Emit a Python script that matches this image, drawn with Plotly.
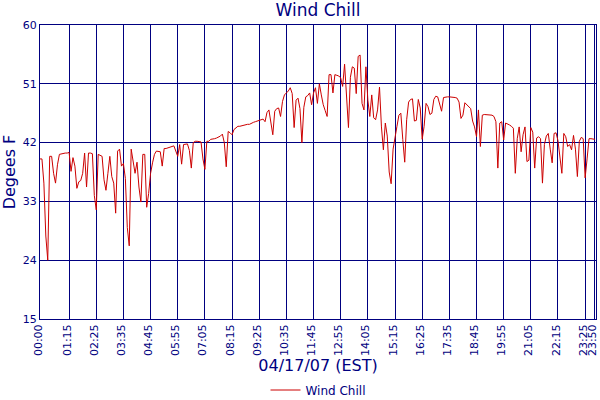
import plotly.graph_objects as go

# wind chill readings every 5 minutes, 00:00 .. 23:50
minutes = list(range(0, 1435, 5))
wind_chill = [
    39.5, 39.5, 35.8, 27.7, 24.0, 39.9, 39.9, 37.3, 35.8, 38.6, 40.2, 40.3,
    40.4, 40.4, 40.4, 40.5, 37.6, 39.7, 38.4, 35.0, 36.0, 36.2, 37.3, 40.4,
    35.2, 40.4, 40.4, 40.3, 33.9, 31.7, 40.2, 40.0, 39.9, 36.3, 34.7, 37.3,
    39.9, 36.8, 35.8, 31.2, 40.7, 41.0, 38.4, 38.8, 36.5, 29.0, 26.2, 41.0,
    39.1, 37.3, 39.0, 35.2, 32.9, 40.2, 40.2, 32.1, 34.2, 37.3, 38.9, 40.2,
    40.7, 40.7, 40.6, 38.4, 41.1, 41.1, 41.2, 41.3, 41.4, 41.5, 40.7, 39.9,
    41.7, 38.7, 41.7, 41.7, 41.8, 40.8, 38.1, 42.0, 42.2, 42.2, 42.2, 42.1,
    39.5, 37.9, 42.2, 42.2, 42.5, 42.5, 42.6, 42.7, 42.8, 43.0, 43.3, 42.0,
    38.3, 43.7, 43.5, 43.2, 44.0, 44.3, 44.5, 44.5, 44.6, 44.6, 44.8, 44.8,
    44.8, 45.0, 45.1, 45.2, 45.3, 45.3, 45.5, 45.6, 45.2, 46.6, 47.0, 45.4,
    43.2, 46.8, 47.2, 47.3, 46.0, 48.3, 49.3, 49.6, 49.9, 50.4, 49.5, 44.3,
    48.5, 48.8, 47.2, 42.0, 47.4, 49.0, 49.2, 49.6, 47.8, 49.6, 50.4, 48.0,
    51.0, 49.3, 47.8, 46.9, 46.0, 52.4, 52.4, 49.6, 52.4, 52.3, 52.2, 51.9,
    50.6, 54.0, 48.5, 44.3, 52.0, 53.6, 53.4, 49.5, 55.2, 55.4, 48.0, 47.0,
    53.6, 48.5, 46.0, 49.3, 45.8, 45.5, 47.0, 50.5, 44.4, 40.9, 45.0, 43.0,
    37.5, 35.7, 41.0, 43.1, 44.5, 46.2, 46.5, 42.5, 39.0, 45.5, 48.2, 48.6,
    48.7, 45.3, 45.4, 48.6, 47.3, 42.5, 44.5, 48.0, 47.5, 46.3, 46.5, 48.6,
    49.1, 49.0, 47.8, 46.8, 48.9, 49.0, 49.0, 49.0, 49.0, 48.9, 48.9, 48.8,
    48.2, 45.7, 46.2, 48.1, 47.8, 47.5, 47.2, 45.3, 44.4, 42.9, 47.0, 41.4,
    46.2, 46.3, 46.3, 46.3, 46.2, 46.2, 46.0, 45.2, 38.1, 45.0, 45.2, 42.4,
    45.0, 44.9, 44.7, 44.5, 44.2, 37.3, 42.6, 44.4, 40.6, 43.2, 44.4, 39.1,
    39.3, 44.3, 43.6, 38.1, 42.7, 42.9, 42.6, 35.8, 41.7, 43.0, 43.4, 41.0,
    38.9, 43.4, 43.5, 42.3, 39.3, 37.3, 43.4, 42.9, 41.4, 41.7, 40.9, 43.1,
    41.0, 36.8, 42.2, 42.8, 42.6, 36.6, 39.5, 42.6, 42.6, 42.5, 42.5,
]

tick_labels = ["00:00", "01:15", "02:25", "03:35", "04:45", "05:55", "07:05",
               "08:15", "09:25", "10:35", "11:45", "12:55", "14:05", "15:15",
               "16:25", "17:35", "18:45", "19:55", "21:05", "22:15", "23:25",
               "23:50"]
tick_minutes = [int(t[:2]) * 60 + int(t[3:]) for t in tick_labels]
y_ticks = [15, 24, 33, 42, 51, 60]

navy = "#000080"

fig = go.Figure()
fig.add_trace(go.Scatter(x=minutes, y=wind_chill, mode="lines", name="Wind Chill",
                         line=dict(color="#CC0000", width=1)))

fig.update_layout(
    width=600, height=400,
    margin=dict(l=40, r=4, t=25, b=81),
    paper_bgcolor="white", plot_bgcolor="white",
    font=dict(family="DejaVu Sans", color=navy, size=11),
    title=dict(text="Wind Chill", x=0.53, xanchor="center", y=0.975, yanchor="middle",
               font=dict(size=17, color=navy), automargin=False),
    showlegend=True,
    legend=dict(orientation="h", x=0.5, xanchor="center", yref="container",
                y=0.025, yanchor="middle", font=dict(size=12, color=navy)),
)
fig.update_xaxes(range=[0, 1433], tickvals=tick_minutes, ticktext=tick_labels,
                 tickangle=-90, showgrid=True, gridcolor=navy, gridwidth=1,
                 showline=True, linecolor=navy, linewidth=1, mirror=True,
                 zeroline=False, automargin=False, tickfont=dict(size=11, color=navy),
                 ticklabelshift=-2, ticklabeloverflow="allow",
                 title=dict(text="04/17/07 (EST)", font=dict(size=16, color=navy), standoff=8))
fig.update_yaxes(range=[15, 60], tickvals=y_ticks, showgrid=True, gridcolor=navy,
                 gridwidth=1, showline=True, linecolor=navy, linewidth=1, mirror=True,
                 zeroline=False, automargin=False, tickfont=dict(size=11, color=navy),
                 title=dict(text="Degees F", font=dict(size=16, color=navy), standoff=4))

# drop the browser's default page margin so the 600x400 figure sits at 0,0
fig.write_html("out.html", config={"displayModeBar": False},
               post_script="document.body.style.margin='0';")
